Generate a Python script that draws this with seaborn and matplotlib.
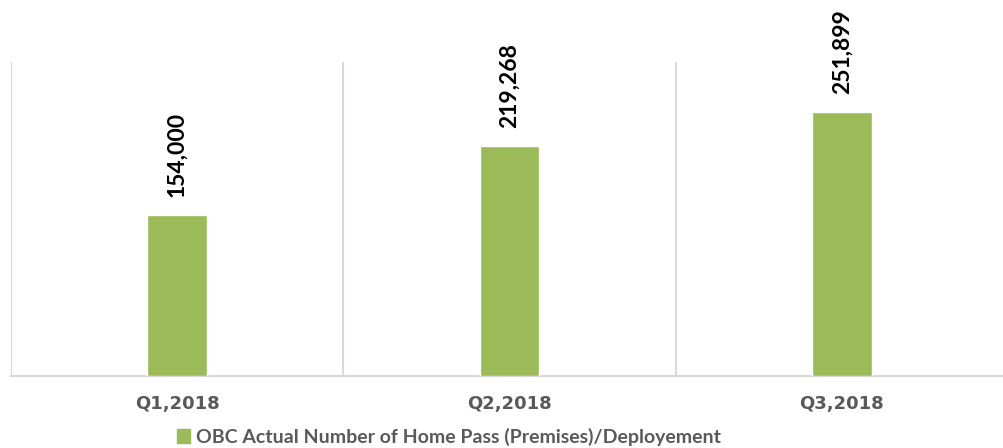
import matplotlib
matplotlib.use("Agg")
import matplotlib.pyplot as plt
import seaborn as sns
import pandas as pd
from matplotlib.patches import Patch

categories = ["Q1,2018", "Q2,2018", "Q3,2018"]
values = [154000, 219268, 251899]
series_name = "OBC Actual Number of Home Pass (Premises)/Deployement"

sns.set_theme(style="white")
plt.rcParams['font.family'] = ['Lato', 'DejaVu Sans']

GREEN = "#9BBB59"
GRID = "#D9D9D9"
TXT = "#595959"

df = pd.DataFrame({"cat": categories, "val": values})

fig = plt.figure(figsize=(10.04, 4.48), dpi=100)
ax = fig.add_axes([11/1004, 72/448, 997/1004, 314/448])

sns.barplot(data=df, x="cat", y="val", color=GREEN, width=0.18, ax=ax,
            saturation=1, zorder=3)

ax.set_ylim(0, 300000)
ax.set_xlim(-0.5, 2.5)
for xv in [-0.5, 0.5, 1.5, 2.5]:
    ax.axvline(xv, color=GRID, lw=1.5, zorder=1)

for s in ["top", "right", "left"]:
    ax.spines[s].set_visible(False)
ax.spines["bottom"].set_color(GRID)
ax.spines["bottom"].set_linewidth(1.5)

ax.set_yticks([])
ax.set_xlabel("")
ax.set_ylabel("")
ax.tick_params(axis="x", length=0, pad=14, labelcolor=TXT)
for t in ax.get_xticklabels():
    t.set_fontweight("bold")
    t.set_fontfamily(["DejaVu Sans"])
    t.set_fontsize(13)

ax.bar_label(ax.containers[0], labels=[f"{v:,}" for v in values],
             rotation=90, padding=13, fontsize=16.5, fontweight="bold",
             color="black")

handle = Patch(facecolor=GREEN, edgecolor=GREEN)
fig.legend([handle], [series_name], loc="center", bbox_to_anchor=(449/1004, 11/448),
           frameon=False, handlelength=0.7, handleheight=0.7, handletextpad=0.3,
           prop={"size": 14, "weight": "bold"}, labelcolor=TXT)

fig.savefig("out.png", dpi=100)
